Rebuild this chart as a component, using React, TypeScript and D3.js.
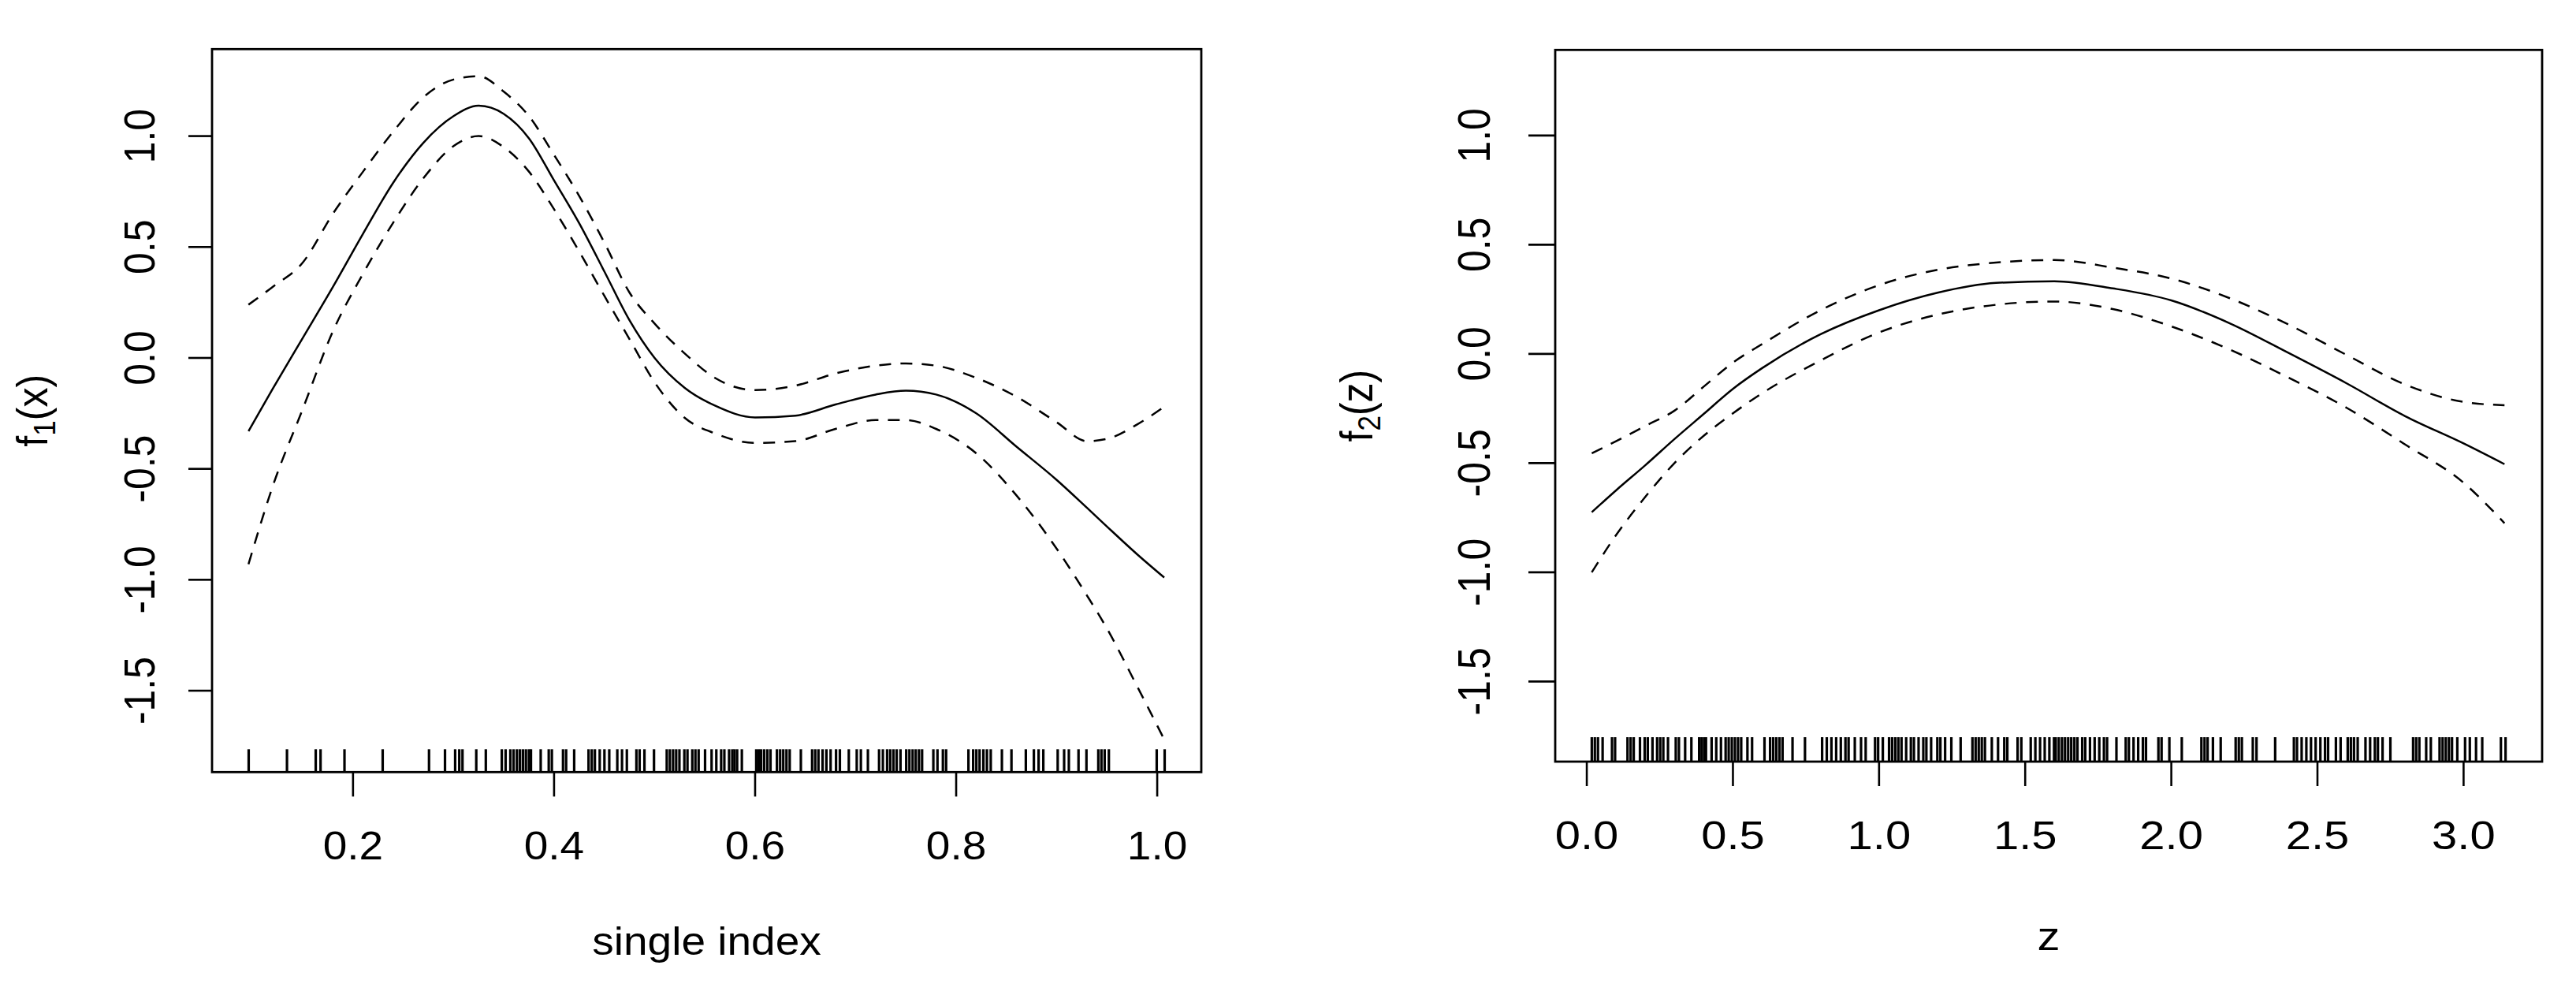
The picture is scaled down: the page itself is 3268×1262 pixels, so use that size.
import * as d3 from 'd3';

// ---- left panel: single index ----
const siGrid = [0.096, 0.12, 0.15, 0.18, 0.21, 0.24, 0.27, 0.3, 0.325, 0.35, 0.375, 0.4, 0.425, 0.45, 0.475, 0.5, 0.53, 0.56, 0.6, 0.64, 0.68, 0.72, 0.75, 0.78, 0.82, 0.86, 0.9, 0.93, 0.95, 0.98, 1.007];
const siFit = [-0.33, -0.14, 0.09, 0.32, 0.56, 0.79, 0.97, 1.09, 1.137, 1.1, 0.99, 0.8, 0.607, 0.39, 0.17, 0.0, -0.135, -0.215, -0.268, -0.26, -0.21, -0.165, -0.148, -0.165, -0.25, -0.4, -0.55, -0.675, -0.76, -0.885, -0.99];
const siUpper = [0.24, 0.32, 0.43, 0.65, 0.84, 1.02, 1.175, 1.255, 1.27, 1.2, 1.09, 0.915, 0.73, 0.52, 0.295, 0.155, 0.02, -0.09, -0.145, -0.125, -0.07, -0.035, -0.025, -0.035, -0.09, -0.175, -0.29, -0.375, -0.365, -0.3, -0.22];
const siLower = [-0.93, -0.58, -0.23, 0.12, 0.38, 0.61, 0.81, 0.955, 1.0, 0.95, 0.84, 0.67, 0.48, 0.28, 0.085, -0.11, -0.27, -0.34, -0.383, -0.375, -0.32, -0.28, -0.28, -0.32, -0.43, -0.62, -0.86, -1.07, -1.22, -1.48, -1.72];
const siRug = [0.0962, 0.1343, 0.1629, 0.1677, 0.1915, 0.2295, 0.2756, 0.2915, 0.3016, 0.3057, 0.3089, 0.3226, 0.3321, 0.348, 0.3518, 0.3565, 0.3597, 0.363, 0.366, 0.369, 0.372, 0.375, 0.377, 0.3867, 0.3947, 0.3978, 0.4089, 0.412, 0.42, 0.4343, 0.4375, 0.4406, 0.4454, 0.4501, 0.4549, 0.4629, 0.4676, 0.4724, 0.4819, 0.4851, 0.4899, 0.4994, 0.5121, 0.5152, 0.5184, 0.5215, 0.5247, 0.5296, 0.5327, 0.5375, 0.5406, 0.5438, 0.5502, 0.5567, 0.5614, 0.5662, 0.5694, 0.5741, 0.5773, 0.5795, 0.5821, 0.5868, 0.6011, 0.6036, 0.6059, 0.609, 0.6122, 0.6153, 0.6217, 0.6249, 0.628, 0.6312, 0.6344, 0.6455, 0.6567, 0.6598, 0.663, 0.6671, 0.6709, 0.6751, 0.6805, 0.6843, 0.6932, 0.7011, 0.7052, 0.7122, 0.7233, 0.7271, 0.7313, 0.7344, 0.7376, 0.7408, 0.7446, 0.7503, 0.7535, 0.7567, 0.7598, 0.763, 0.7661, 0.7773, 0.7814, 0.7868, 0.79, 0.8122, 0.8169, 0.8201, 0.8233, 0.8271, 0.8306, 0.8344, 0.8455, 0.855, 0.8693, 0.8773, 0.882, 0.8867, 0.901, 0.9074, 0.9121, 0.9217, 0.9296, 0.9414, 0.9445, 0.9477, 0.9519, 0.9995, 1.0074];
const siTicks = [0.2, 0.4, 0.6, 0.8, 1.0];

// ---- right panel: z ----
const zGrid = [0.017, 0.1, 0.2, 0.3, 0.4, 0.5, 0.6, 0.8, 1.0, 1.2, 1.4, 1.6, 1.8, 2.0, 2.2, 2.4, 2.6, 2.8, 3.0, 3.14];
const zFit = [-0.725, -0.625, -0.51, -0.39, -0.275, -0.16, -0.065, 0.09, 0.2, 0.28, 0.325, 0.333, 0.3, 0.245, 0.14, 0.005, -0.135, -0.285, -0.41, -0.505];
const zUpper = [-0.455, -0.4, -0.33, -0.26, -0.15, -0.04, 0.045, 0.2, 0.315, 0.385, 0.418, 0.43, 0.395, 0.345, 0.255, 0.135, -0.005, -0.14, -0.22, -0.235];
const zLower = [-1.0, -0.83, -0.655, -0.5, -0.375, -0.272, -0.18, -0.03, 0.098, 0.18, 0.225, 0.24, 0.205, 0.126, 0.02, -0.108, -0.247, -0.415, -0.59, -0.775];
const zRug = [0.017, 0.0275, 0.0382, 0.0541, 0.0862, 0.0968, 0.1393, 0.15, 0.1606, 0.1819, 0.198, 0.2086, 0.2247, 0.2406, 0.2512, 0.2618, 0.2778, 0.3044, 0.3152, 0.3365, 0.3578, 0.3844, 0.3928, 0.4014, 0.4078, 0.427, 0.4429, 0.459, 0.475, 0.4855, 0.4962, 0.5068, 0.5175, 0.5283, 0.5496, 0.5655, 0.608, 0.6272, 0.6379, 0.6485, 0.6592, 0.6698, 0.7039, 0.7465, 0.8052, 0.8211, 0.837, 0.8532, 0.8691, 0.885, 0.8957, 0.917, 0.9383, 0.9542, 0.9863, 0.9968, 1.0129, 1.0342, 1.0447, 1.0555, 1.066, 1.0768, 1.0927, 1.1088, 1.1193, 1.1352, 1.1514, 1.1619, 1.1781, 1.1994, 1.2099, 1.226, 1.2473, 1.2791, 1.3195, 1.3303, 1.341, 1.3515, 1.3623, 1.3858, 1.4071, 1.4284, 1.4389, 1.4741, 1.4868, 1.5189, 1.5348, 1.5509, 1.5668, 1.5827, 1.5986, 1.6045, 1.615, 1.6258, 1.6363, 1.6471, 1.6576, 1.6684, 1.6789, 1.695, 1.7055, 1.7217, 1.7376, 1.7535, 1.7694, 1.7802, 1.8122, 1.844, 1.8548, 1.8707, 1.8866, 1.9027, 1.9133, 1.9558, 1.9666, 1.9933, 2.0358, 2.1029, 2.1137, 2.1242, 2.1423, 2.1689, 2.2201, 2.2309, 2.2414, 2.2788, 2.2915, 2.3553, 2.4194, 2.43, 2.4459, 2.462, 2.4779, 2.4938, 2.51, 2.5259, 2.5364, 2.5631, 2.5792, 2.6035, 2.6142, 2.625, 2.6377, 2.6643, 2.6802, 2.6964, 2.7069, 2.7228, 2.7495, 2.8273, 2.8378, 2.8486, 2.872, 2.8879, 2.9178, 2.9283, 2.9391, 2.9499, 2.9604, 2.9785, 3.0051, 3.0213, 3.0426, 3.0638, 3.1277, 3.1436];
const zTicks = [0, 0.5, 1.0, 1.5, 2.0, 2.5, 3.0];

const yTicks = [-1.5, -1.0, -0.5, 0.0, 0.5, 1.0];
const yLim = [-1.867, 1.392];

const FONT = '"Liberation Sans", Arial, sans-serif';

// R style: extend data range by 4% each side
function rRange(v) {
  const [a, b] = d3.extent(v);
  const pad = (b - a) * 0.04;
  return [a - pad, b + pad];
}

function Panel({ box, grid, fit, upper, lower, rug, xTicks, xlab, sub, arg, sx, tickLen, yLabGap, yLabX, xlabY, rugLen }) {
  const x = d3.scaleLinear().domain(rRange(rug)).range([box.x0, box.x1]);
  const y = d3.scaleLinear().domain(yLim).range([box.y1, box.y0]);
  const line = d3.line().x(d => x(d[0])).y(d => y(d[1])).curve(d3.curveMonotoneX);
  const pts = s => grid.map((g, i) => [g, s[i]]);
  const midY = (box.y0 + box.y1) / 2;
  const midX = (box.x0 + box.x1) / 2;
  const fmt = d => d.toFixed(1);

  return (
    <g fontFamily={FONT} fontSize={50} fill="#000">
      <rect x={box.x0} y={box.y0} width={box.x1 - box.x0} height={box.y1 - box.y0} fill="none" stroke="#000" strokeWidth={2.8} />

      {rug.map((r, i) => (
        <line key={'r' + i} x1={x(r)} x2={x(r)} y1={box.y1} y2={box.y1 - rugLen} stroke="#000" strokeWidth={3.2} />
      ))}

      <path d={line(pts(upper))} fill="none" stroke="#000" strokeWidth={2.5} strokeDasharray="15 12" />
      <path d={line(pts(lower))} fill="none" stroke="#000" strokeWidth={2.5} strokeDasharray="15 12" />
      <path d={line(pts(fit))} fill="none" stroke="#000" strokeWidth={2.5} />

      {/* x axis */}
      {xTicks.map(t => (
        <g key={'x' + t}>
          <line x1={x(t)} x2={x(t)} y1={box.y1} y2={box.y1 + 31} stroke="#000" strokeWidth={2.6} />
          <text transform={`translate(${x(t)},${box.y1 + 111}) scale(${sx},1)`} textAnchor="middle">{fmt(t)}</text>
        </g>
      ))}
      {/* y axis */}
      {yTicks.map(t => (
        <g key={'y' + t}>
          <line x1={box.x0 - tickLen} x2={box.x0} y1={y(t)} y2={y(t)} stroke="#000" strokeWidth={2.6} />
          <text transform={`translate(${box.x0 - yLabGap},${y(t)}) scale(${sx},1) rotate(-90)`} textAnchor="middle">{fmt(t)}</text>
        </g>
      ))}

      <text transform={`translate(${midX},${xlabY}) scale(${sx},1)`} textAnchor="middle">{xlab}</text>
      <text transform={`translate(${yLabX},${midY}) scale(${sx},1) rotate(-90)`} textAnchor="middle">
        f<tspan fontSize={35} dy={9}>{sub}</tspan><tspan dy={-9}>({arg})</tspan>
      </text>
    </g>
  );
}

export default function App() {
  return (
    <svg width={3268} height={1262} style={{ position: 'absolute', left: 0, top: 0, background: '#fff' }}>
      <rect width={3268} height={1262} fill="#fff" />
      <Panel
        box={{ x0: 269, x1: 1524, y0: 62.3, y1: 979.3 }}
        grid={siGrid} fit={siFit} upper={siUpper} lower={siLower} rug={siRug}
        xTicks={siTicks} xlab="single index" sub="1" arg="x"
        sx={1.1} tickLen={30} yLabGap={73} yLabX={60} xlabY={1211} rugLen={29}
      />
      <Panel
        box={{ x0: 1973, x1: 3225, y0: 63.3, y1: 966 }}
        grid={zGrid} fit={zFit} upper={zUpper} lower={zLower} rug={zRug}
        xTicks={zTicks} xlab="z" sub="2" arg="z"
        sx={1.16} tickLen={34} yLabGap={83} yLabX={1741} xlabY={1205} rugLen={31}
      />
    </svg>
  );
}
